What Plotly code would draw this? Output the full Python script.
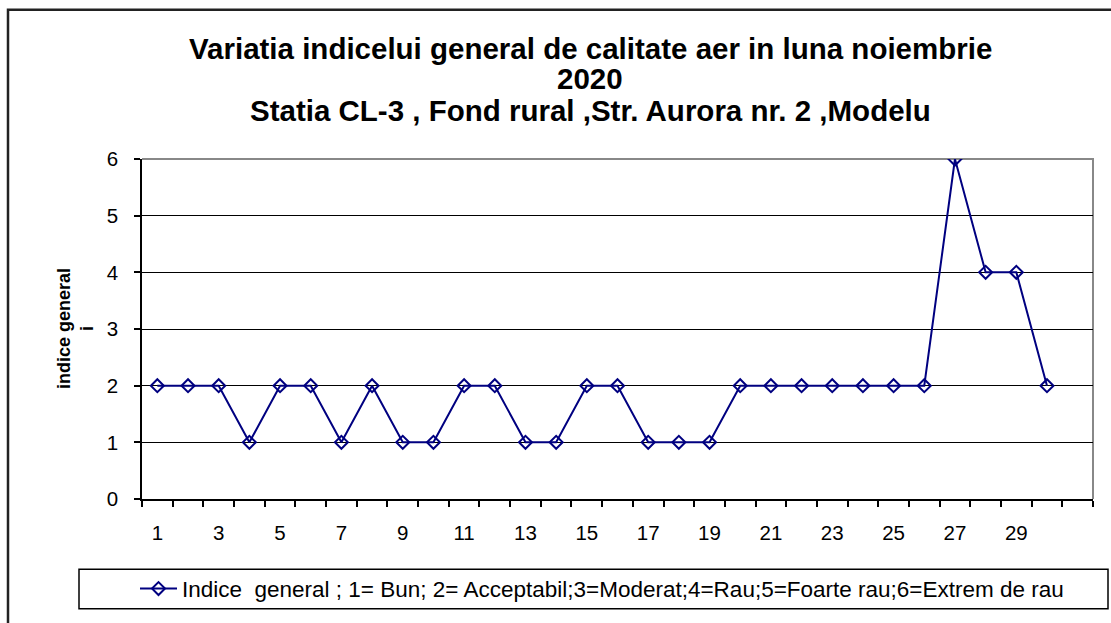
import plotly.graph_objects as go

# ---- data ----
days = list(range(1, 31))
indice = [2, 2, 2, 1, 2, 2, 1, 2, 1, 1, 2, 2, 1, 1, 2, 2, 1, 1, 1, 2,
          2, 2, 2, 2, 2, 2, 6, 4, 4, 2]
label_days = list(range(1, 30, 2))
y_ticks = [0, 1, 2, 3, 4, 5, 6]
series_name = ("Indice\u00a0\u00a0general ; 1= Bun; 2= Acceptabil;3=Moderat;4=Rau;"
               "5=Foarte rau;6=Extrem de rau")
title_lines = ["Variatia indicelui general de calitate aer in luna noiembrie",
               "2020",
               "Statia CL-3 , Fond rural ,Str. Aurora nr. 2 ,Modelu"]
y_title = "indice general<br>i"

W, H = 1111, 623
L, R, T, B = 142, 1093, 159, 503
pw, ph = R - L, B - T


def px(x):
    return (x - L) / pw


def py(y):
    return (B - y) / ph


FONT = "Liberation Sans, Arial, sans-serif"
NAVY = "#000080"

fig = go.Figure()
fig.add_trace(go.Scatter(
    x=days, y=indice, mode="lines+markers", name=series_name,
    line=dict(color=NAVY, width=2),
    marker=dict(symbol="diamond-open", size=10, color=NAVY,
                line=dict(color=NAVY, width=2)),
))
# helper trace so the label axis is drawn
fig.add_trace(go.Scatter(
    x=days, y=indice, xaxis="x2", mode="lines", opacity=0,
    showlegend=False, hoverinfo="skip", line=dict(width=0),
))

title_y = [47, 78, 110]
annotations = [dict(text="<b>" + t + "</b>", x=px(590), y=py(yy),
                    xref="paper", yref="paper", xanchor="center",
                    yanchor="middle", showarrow=False,
                    font=dict(size=29.5, family=FONT, color="black"))
               for t, yy in zip(title_lines, title_y)]

annotations.append(dict(text="<b>" + y_title + "</b>", x=px(75), y=0.5,
                        xref="paper", yref="paper", xanchor="center",
                        yanchor="middle", textangle=-90, showarrow=False,
                        font=dict(size=18, family=FONT, color="black")))

fig.update_layout(
    width=W, height=H,
    margin=dict(l=L, r=W - R, t=T, b=H - B),
    paper_bgcolor="white", plot_bgcolor="white",
    font=dict(family=FONT, color="black"),
    xaxis=dict(range=[0.5, 31.5], tickvals=[i + 0.5 for i in range(0, 32)],
               ticktext=["" for _ in range(32)], ticks="outside", ticklen=6,
               tickcolor="black", tickwidth=1.5, showline=True, linecolor="black",
               linewidth=1.5, showgrid=False, zeroline=False, fixedrange=True),
    xaxis2=dict(overlaying="x", matches="x", anchor="y", side="bottom",
                range=[0.5, 31.5], tickvals=label_days,
                ticktext=[str(d) for d in label_days], ticks="",
                showline=False, showgrid=False, zeroline=False,
                ticklabelstandoff=19,
                tickfont=dict(size=20.5, family=FONT, color="black")),
    yaxis=dict(range=[0, 6], tickvals=y_ticks, ticks="outside", ticklen=6,
               tickcolor="black", tickwidth=1.5, showline=True, linecolor="black",
               linewidth=1.5, showgrid=True, gridcolor="black", gridwidth=1.2,
               zeroline=False, ticklabelstandoff=12,
               tickfont=dict(size=20.5, family=FONT, color="black")),
    legend=dict(x=px(135), y=py(594), xanchor="left", yanchor="middle",
                bgcolor="rgba(0,0,0,0)", borderwidth=0, itemwidth=37,
                font=dict(size=22.5, family=FONT, color="black")),
    showlegend=True,
    annotations=annotations,
    shapes=[
        # gray plot-area border (top and right)
        dict(type="path", xref="paper", yref="paper",
             path="M 0,1 L 1,1 L 1,0", line=dict(color="#888888", width=2),
             layer="between"),
        # legend box
        dict(type="rect", xref="paper", yref="paper",
             x0=px(79), x1=px(1108), y0=py(614), y1=py(574),
             line=dict(color="black", width=1.5)),
        # outer chart border
        dict(type="rect", xref="paper", yref="paper",
             x0=px(8), x1=px(1130), y0=py(650), y1=py(8),
             line=dict(color="#222222", width=2.5)),
    ],
)

fig.write_html("out.html",
               config={"displayModeBar": False},
               post_script="document.body.style.margin='0px';"
                           "document.body.style.overflow='hidden';")
